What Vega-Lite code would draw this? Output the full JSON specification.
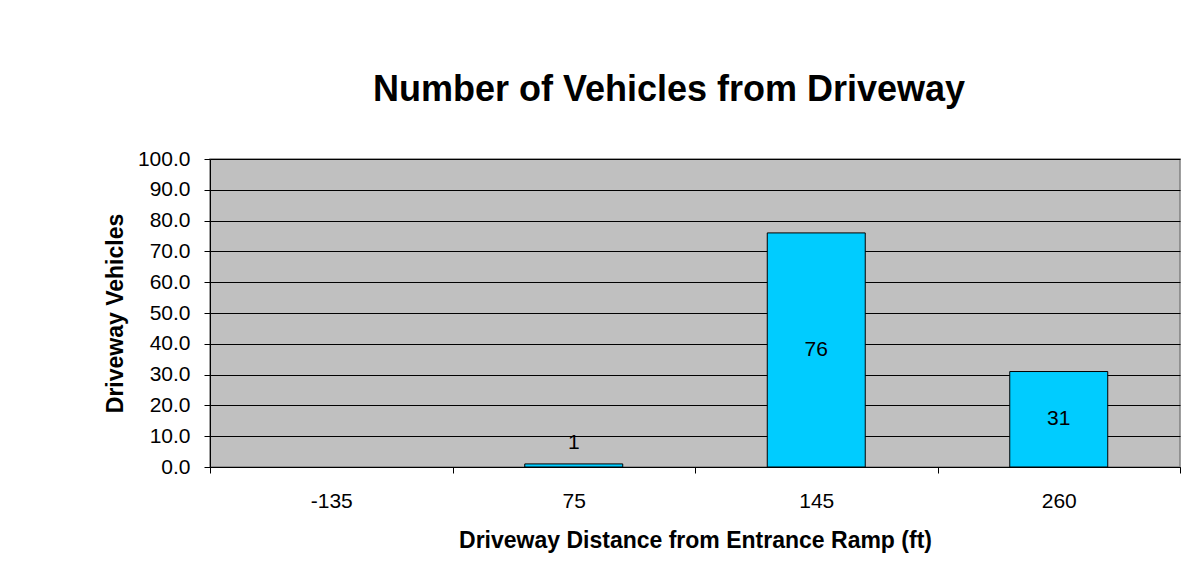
{
  "$schema": "https://vega.github.io/schema/vega-lite/v6.json",
  "autosize": {"type": "none"},
  "width": 970,
  "height": 308,
  "padding": {"left": 210, "top": 159, "right": 21, "bottom": 98},
  "background": "white",
  "title": {
    "text": "Number of Vehicles from Driveway",
    "font": "Liberation Sans",
    "fontSize": 36,
    "fontWeight": "bold",
    "color": "black",
    "anchor": "middle",
    "dx": -26,
    "offset": 39
  },
  "config": {
    "view": {"fill": "#C0C0C0", "stroke": "#808080", "strokeWidth": 1.5},
    "axis": {"labelFont": "Liberation Sans", "titleFont": "Liberation Sans", "labelColor": "black", "titleColor": "black", "domainColor": "black", "tickColor": "black"},
    "axisY": {
      "titleFontSize": 23,
      "titleFontWeight": "bold",
      "titlePadding": 10,
      "labelFontSize": 21,
      "labelPadding": 14,
      "labelOverlap": false,
      "tickSize": 6,
      "grid": true,
      "gridColor": "black",
      "gridOpacity": 1,
      "gridWidth": 1
    }
  },
  "data": {
    "values": [
      {"distance": "-135", "vehicles": null},
      {"distance": "75", "vehicles": 1},
      {"distance": "145", "vehicles": 76},
      {"distance": "260", "vehicles": 31}
    ]
  },
  "encoding": {
    "x": {
      "field": "distance",
      "type": "nominal",
      "sort": ["-135", "75", "145", "260"],
      "scale": {"paddingInner": 0, "paddingOuter": 0},
      "axis": {
        "title": "Driveway Distance from Entrance Ramp (ft)",
        "titleFontSize": 23,
        "titleFontWeight": "bold",
        "titlePadding": 18,
        "labelFontSize": 21,
        "labelPadding": 17,
        "labelAngle": 0,
        "tickBand": "extent",
        "tickSize": 6,
        "grid": false,
        "domainWidth": 1
      }
    }
  },
  "layer": [
    {
      "mark": {"type": "bar", "width": {"band": 0.404}, "fill": "#00CCFF", "stroke": "black", "strokeWidth": 1},
      "encoding": {
        "y": {
          "field": "vehicles",
          "type": "quantitative",
          "scale": {"domain": [0, 100], "nice": false},
          "axis": {
            "title": "Driveway Vehicles",
            "format": ".1f",
            "values": [0, 10, 20, 30, 40, 50, 60, 70, 80, 90, 100]
          }
        }
      }
    },
    {
      "transform": [{"filter": "datum.vehicles >= 10"}, {"calculate": "datum.vehicles / 2", "as": "mid"}],
      "mark": {"type": "text", "font": "Liberation Sans", "fontSize": 21, "color": "black", "baseline": "middle"},
      "encoding": {
        "y": {
          "field": "mid",
          "type": "quantitative",
          "axis": {
            "title": "Driveway Vehicles",
            "format": ".1f",
            "values": [0, 10, 20, 30, 40, 50, 60, 70, 80, 90, 100]
          }
        },
        "text": {"field": "vehicles", "type": "quantitative"}
      }
    },
    {
      "transform": [{"filter": "datum.vehicles != null && datum.vehicles < 10"}],
      "mark": {"type": "text", "font": "Liberation Sans", "fontSize": 21, "color": "black", "baseline": "bottom", "dy": -11},
      "encoding": {
        "y": {
          "field": "vehicles",
          "type": "quantitative",
          "axis": {
            "title": "Driveway Vehicles",
            "format": ".1f",
            "values": [0, 10, 20, 30, 40, 50, 60, 70, 80, 90, 100]
          }
        },
        "text": {"field": "vehicles", "type": "quantitative"}
      }
    }
  ]
}
